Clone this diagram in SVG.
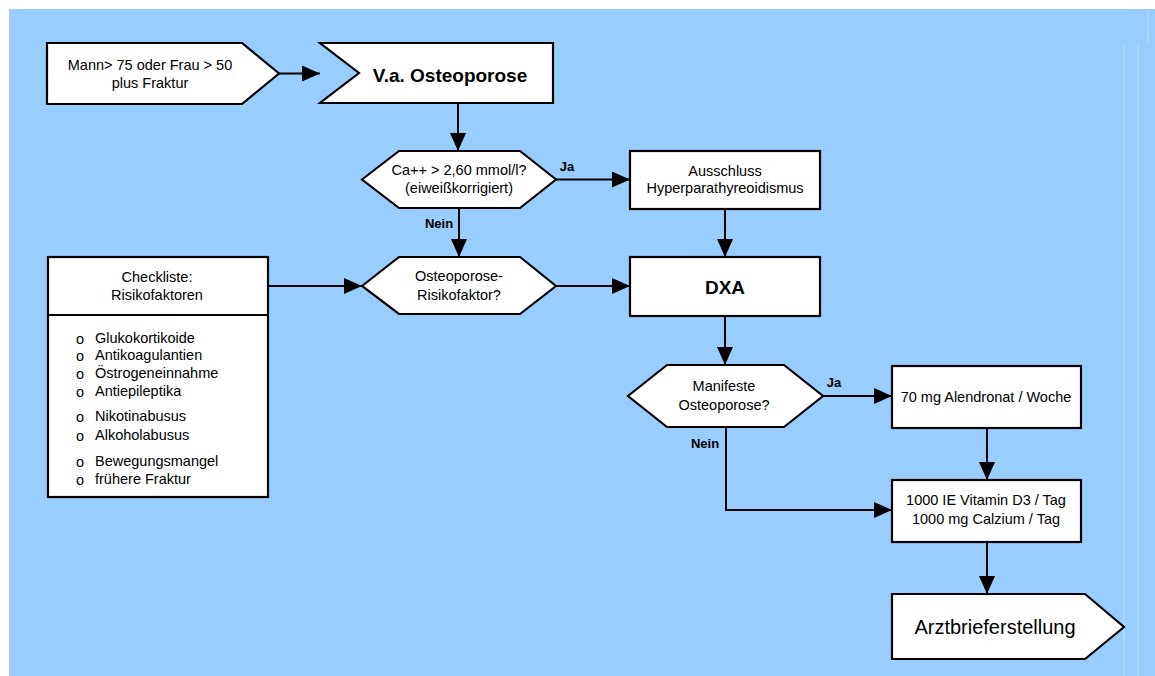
<svg xmlns="http://www.w3.org/2000/svg" width="1155" height="676" viewBox="0 0 1155 676">
<defs>
<style>
.shape{fill:#ffffff;stroke:#000000;stroke-width:2.2;stroke-linejoin:miter}
.conn{fill:none;stroke:#000000;stroke-width:2}
.t{font-family:"Liberation Sans",Arial,sans-serif;font-size:14.5px;fill:#000;text-anchor:middle}
.tl{font-family:"Liberation Sans",Arial,sans-serif;font-size:14.5px;fill:#000}
.tb{font-family:"Liberation Sans",Arial,sans-serif;font-size:19px;font-weight:bold;fill:#000;text-anchor:middle}
.lab{font-family:"Liberation Sans",Arial,sans-serif;font-size:13px;font-weight:bold;fill:#000;text-anchor:middle}
.faint{stroke:#c4defc;stroke-width:1}
</style>
<marker id="ah" markerUnits="userSpaceOnUse" markerWidth="18" markerHeight="16" refX="18" refY="8" orient="auto">
<path d="M0,0 L18,8 L0,16 z" fill="#000"/>
</marker>
</defs>
<rect x="0" y="0" width="1155" height="676" fill="#ffffff"/>
<rect x="9" y="9" width="1146" height="667" fill="#99CCFF"/>
<line class="faint" x1="1124" y1="44" x2="1124" y2="676"/>
<line class="faint" x1="1138" y1="44" x2="1138" y2="676"/>
<line class="faint" x1="1148" y1="11" x2="1148" y2="43"/>

<g id="connectors">
<line class="conn" x1="279" y1="73.5" x2="320" y2="73.5" marker-end="url(#ah)"/>
<line class="conn" x1="458" y1="103" x2="458" y2="151" marker-end="url(#ah)"/>
<line class="conn" x1="556" y1="179.5" x2="630" y2="179.5" marker-end="url(#ah)"/>
<line class="conn" x1="459" y1="208" x2="459" y2="257" marker-end="url(#ah)"/>
<line class="conn" x1="725" y1="209" x2="725" y2="257" marker-end="url(#ah)"/>
<line class="conn" x1="268" y1="286" x2="362" y2="286" marker-end="url(#ah)"/>
<line class="conn" x1="556" y1="286" x2="630" y2="286" marker-end="url(#ah)"/>
<line class="conn" x1="725" y1="316" x2="725" y2="365" marker-end="url(#ah)"/>
<line class="conn" x1="823" y1="396" x2="892" y2="396" marker-end="url(#ah)"/>
<line class="conn" x1="987" y1="428" x2="987" y2="480" marker-end="url(#ah)"/>
<polyline class="conn" points="726,427 726,510 892,510" marker-end="url(#ah)"/>
<line class="conn" x1="987" y1="542" x2="987" y2="594" marker-end="url(#ah)"/>
<text class="lab" x="567" y="171">Ja</text>
<text class="lab" x="439" y="228">Nein</text>
<text class="lab" x="834" y="387">Ja</text>
<text class="lab" x="705" y="448">Nein</text>
</g>

<g id="start">
<polygon class="shape" points="47,43 242,43 279,73.5 242,104 47,104"/>
<text class="t" x="150" y="70">Mann&gt; 75 oder Frau &gt; 50</text>
<text class="t" x="150" y="88">plus Fraktur</text>
</g>

<g id="va">
<polygon class="shape" points="320,43 553,43 553,103 320,103 359,73"/>
<text class="tb" x="450" y="82">V.a. Osteoporose</text>
</g>

<g id="calcium">
<polygon class="shape" points="362,179.5 399,151 520,151 556,179.5 520,208 399,208"/>
<text class="t" x="459" y="175">Ca++ &gt; 2,60 mmol/l?</text>
<text class="t" x="459" y="193">(eiweißkorrigiert)</text>
</g>

<g id="ausschluss">
<rect class="shape" x="630" y="151" width="190" height="58"/>
<text class="t" x="725" y="176">Ausschluss</text>
<text class="t" x="725" y="193">Hyperparathyreoidismus</text>
</g>

<g id="risiko">
<polygon class="shape" points="362,286 399,257 520,257 556,286 520,314 399,314"/>
<text class="t" x="459" y="281">Osteoporose-</text>
<text class="t" x="459" y="300">Risikofaktor?</text>
</g>

<g id="dxa">
<rect class="shape" x="630" y="257" width="190" height="59"/>
<text class="tb" x="725" y="294">DXA</text>
</g>

<g id="checkliste">
<rect class="shape" x="48" y="257" width="220" height="240"/>
<line class="conn" x1="48" y1="315" x2="268" y2="315" style="stroke-width:2.2"/>
<text class="t" x="157" y="282">Checkliste:</text>
<text class="t" x="157" y="300">Risikofaktoren</text>
<g class="tl">
<text x="76" y="344">o</text><text x="95" y="343">Glukokortikoide</text>
<text x="76" y="361">o</text><text x="95" y="360">Antikoagulantien</text>
<text x="76" y="379">o</text><text x="95" y="378">Östrogeneinnahme</text>
<text x="76" y="397">o</text><text x="95" y="396">Antiepileptika</text>
<text x="76" y="422">o</text><text x="95" y="421">Nikotinabusus</text>
<text x="76" y="441">o</text><text x="95" y="440">Alkoholabusus</text>
<text x="76" y="467">o</text><text x="95" y="466">Bewegungsmangel</text>
<text x="76" y="485">o</text><text x="95" y="484">frühere Fraktur</text>
</g>
</g>

<g id="manifeste">
<polygon class="shape" points="628,396 667,365 784,365 823,396 784,427 667,427"/>
<text class="t" x="724" y="391">Manifeste</text>
<text class="t" x="724" y="410">Osteoporose?</text>
</g>

<g id="alendronat">
<rect class="shape" x="892" y="366" width="189" height="62"/>
<text class="t" x="986" y="402">70 mg Alendronat / Woche</text>
</g>

<g id="vitamin">
<rect class="shape" x="892" y="480" width="189" height="62"/>
<text class="t" x="986" y="505">1000 IE Vitamin D3 / Tag</text>
<text class="t" x="986" y="524">1000 mg Calzium / Tag</text>
</g>

<g id="arztbrief">
<polygon class="shape" points="892,594 1085,594 1124,627 1085,659 892,659"/>
<text class="t" x="995" y="634" style="font-size:20px">Arztbrieferstellung</text>
</g>
</svg>
